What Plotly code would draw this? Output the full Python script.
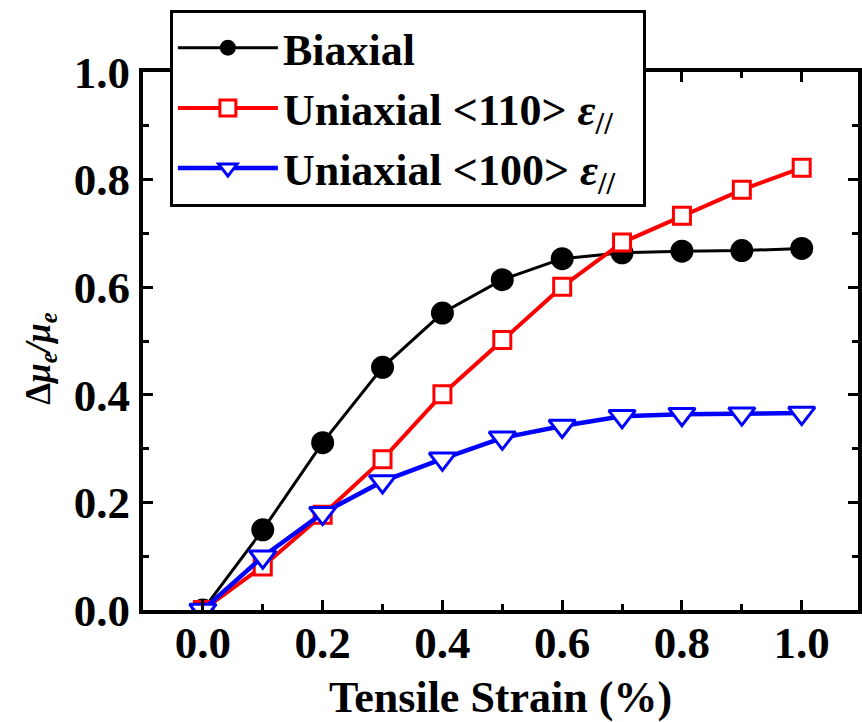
import plotly.graph_objects as go

strain = [0.0, 0.1, 0.2, 0.3, 0.4, 0.5, 0.6, 0.7, 0.8, 0.9, 1.0]
biaxial = [0.0, 0.149, 0.311, 0.451, 0.552, 0.614, 0.653, 0.664, 0.667, 0.668, 0.672]
uni110 = [0.0, 0.081, 0.177, 0.280, 0.401, 0.502, 0.601, 0.683, 0.733, 0.781, 0.822]
uni100 = [0.0, 0.099, 0.180, 0.239, 0.281, 0.320, 0.342, 0.360, 0.364, 0.365, 0.366]

names = ["Biaxial",
         "Uniaxial &lt;110&gt; <i>ε</i><sub>//</sub>&nbsp;&nbsp;",
         "Uniaxial &lt;100&gt; <i>ε</i><sub>//</sub>&nbsp;&nbsp;"]

FONT = "Liberation Serif"

fig = go.Figure()
fig.add_trace(go.Scatter(
    x=strain, y=biaxial, name=names[0], mode="lines+markers",
    line=dict(color="black", width=3),
    marker=dict(symbol="circle", size=23, color="black")))
fig.add_trace(go.Scatter(
    x=strain, y=uni110, name=names[1], mode="lines+markers",
    line=dict(color="#ff0000", width=4),
    marker=dict(symbol="square", size=17, color="white",
                line=dict(color="#ff0000", width=3))))
fig.add_trace(go.Scatter(
    x=strain, y=uni100, name=names[2], mode="lines+markers",
    line=dict(color="#0000ff", width=4.5),
    marker=dict(symbol="triangle-down", size=23, color="white",
                line=dict(color="#0000ff", width=3))))

axis_common = dict(
    showline=True, linecolor="black", linewidth=4, mirror="allticks",
    ticks="inside", ticklen=10, tickwidth=3, tickcolor="black",
    showgrid=False, zeroline=False,
    tickfont=dict(family=FONT, size=45, color="black", weight="bold"),
    tickformat=".1f",
)

fig.update_layout(
    width=862, height=722,
    margin=dict(l=143, r=0, t=72, b=112),
    paper_bgcolor="white", plot_bgcolor="white",
    xaxis=dict(**axis_common, range=[-0.1, 1.094], tick0=0, dtick=0.2,
               ticklabelstandoff=-10,
               minor=dict(ticks="inside", ticklen=6, tickwidth=3, tickcolor="black", dtick=0.1, tick0=0),
               title=dict(text="Tensile Strain (%)", standoff=22,
                          font=dict(family=FONT, size=44, color="black", weight="bold"))),
    yaxis=dict(**axis_common, range=[0, 1.0], tick0=0, dtick=0.2,
               minor=dict(ticks="inside", ticklen=6, tickwidth=3, tickcolor="black", dtick=0.1, tick0=0),
               title=dict(text="Δ<i>μ</i><sub><i>e</i></sub><i>/μ</i><sub><i>e</i></sub>&nbsp;&nbsp;&nbsp;&nbsp;", standoff=14,
                          font=dict(family=FONT, size=35, color="black", weight="bold"))),
    legend=dict(x=0.0376, y=1.116, xanchor="left", yanchor="top",
                bgcolor="white", bordercolor="black", borderwidth=3,
                font=dict(family=FONT, size=44, color="black", weight="bold"),
                itemwidth=100, tracegroupgap=0),
    showlegend=True,
)

fig.write_html("out.html")
